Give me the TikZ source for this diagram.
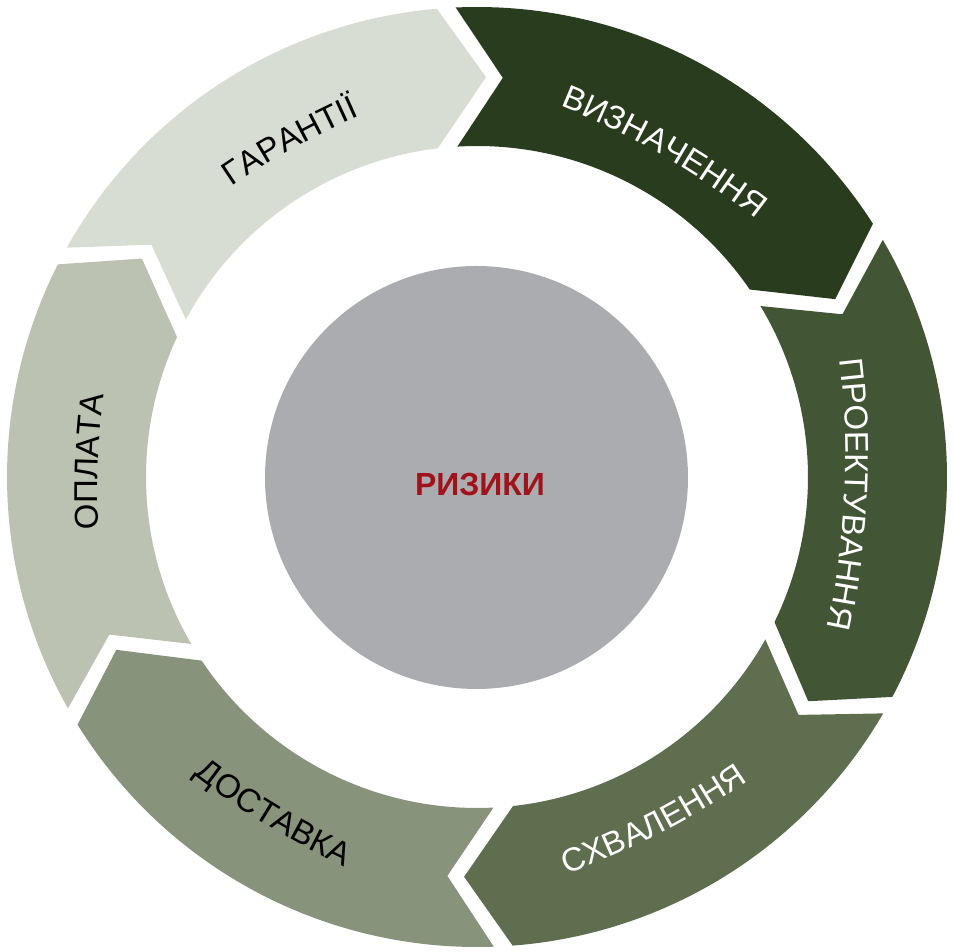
\documentclass[tikz,border=0pt]{standalone}
\usepackage{fontspec}
\setmainfont{Liberation Sans}
\usetikzlibrary{calc,decorations.text}
\definecolor{cDef}{RGB}{41,61,30}
\definecolor{cDes}{RGB}{66,85,53}
\definecolor{cApp}{RGB}{95,110,79}
\definecolor{cDel}{RGB}{135,147,122}
\definecolor{cPay}{RGB}{188,194,177}
\definecolor{cGua}{RGB}{216,221,212}
\definecolor{cCore}{RGB}{171,172,175}
\definecolor{cRisk}{RGB}{160,19,27}
% segment: start boundary angle, end boundary angle, colour
\newcommand\ringseg[3]{%
  \fill[#3] ($(C)+({#1-1.2}:470)$) arc[start angle={#1-1.2}, end angle={#2+1.1}, radius=470]
    -- ($(C)+({#2-5.1}:400)$) -- ($(C)+({#2+3}:331)$)
    arc[start angle={#2+3}, end angle={#1-0.4}, radius=331]
    -- ($(C)+({#1-7.5}:400)$) -- cycle;}
% clockwise label (tops outward): angle, baseline radius, text, colour
\newcommand\cwlabel[4]{%
  \path[decorate,decoration={text along path,text align=center,
    text={|\fontsize{33}{33}\selectfont\color{#4}|#3}}]
    ($(C)+(#1:{#2-800})+({#1+25}:800)$) arc[start angle={#1+25}, end angle={#1-25}, radius=800];}
% counter-clockwise label (tops inward)
\newcommand\ccwlabel[4]{%
  \path[decorate,decoration={text along path,text align=center,
    text={|\fontsize{33}{33}\selectfont\color{#4}|#3}}]
    ($(C)+(#1:{#2-800})+({#1-25}:800)$) arc[start angle={#1-25}, end angle={#1+25}, radius=800];}
\begin{document}
\begin{tikzpicture}[x=1pt,y=1pt]
\useasboundingbox (0,0) rectangle (954,952);
\coordinate (C) at (477,475);
\ringseg{93.8}{31.5}{cDef}
\ringseg{31.5}{-29}{cDes}
\ringseg{-29}{-86.75}{cApp}
\ringseg{-86.75}{-149.3}{cDel}
\ringseg{210.7}{152}{cPay}
\ringseg{152}{93.8}{cGua}
\cwlabel{60.1}{371.2}{ВИЗНАЧЕННЯ}{white}
\cwlabel{-2.7}{368.2}{ПРОЕКТУВАННЯ}{white}
\ccwlabel{-62.8}{400.8}{СХВАЛЕННЯ}{white}
\ccwlabel{-121.2}{406.8}{ДОСТАВКА}{black}
\cwlabel{177.7}{379.2}{ОПЛАТА}{black}
\cwlabel{119.1}{376.2}{ГАРАНТІЇ}{black}
\node[circle,fill=cCore,minimum size=423pt,inner sep=0pt] (core) at (476.5,474.5) {};
\node[text=cRisk,font=\bfseries\fontsize{32}{32}\selectfont] (risk) at (480,467) {РИЗИКИ};
\end{tikzpicture}
\end{document}
